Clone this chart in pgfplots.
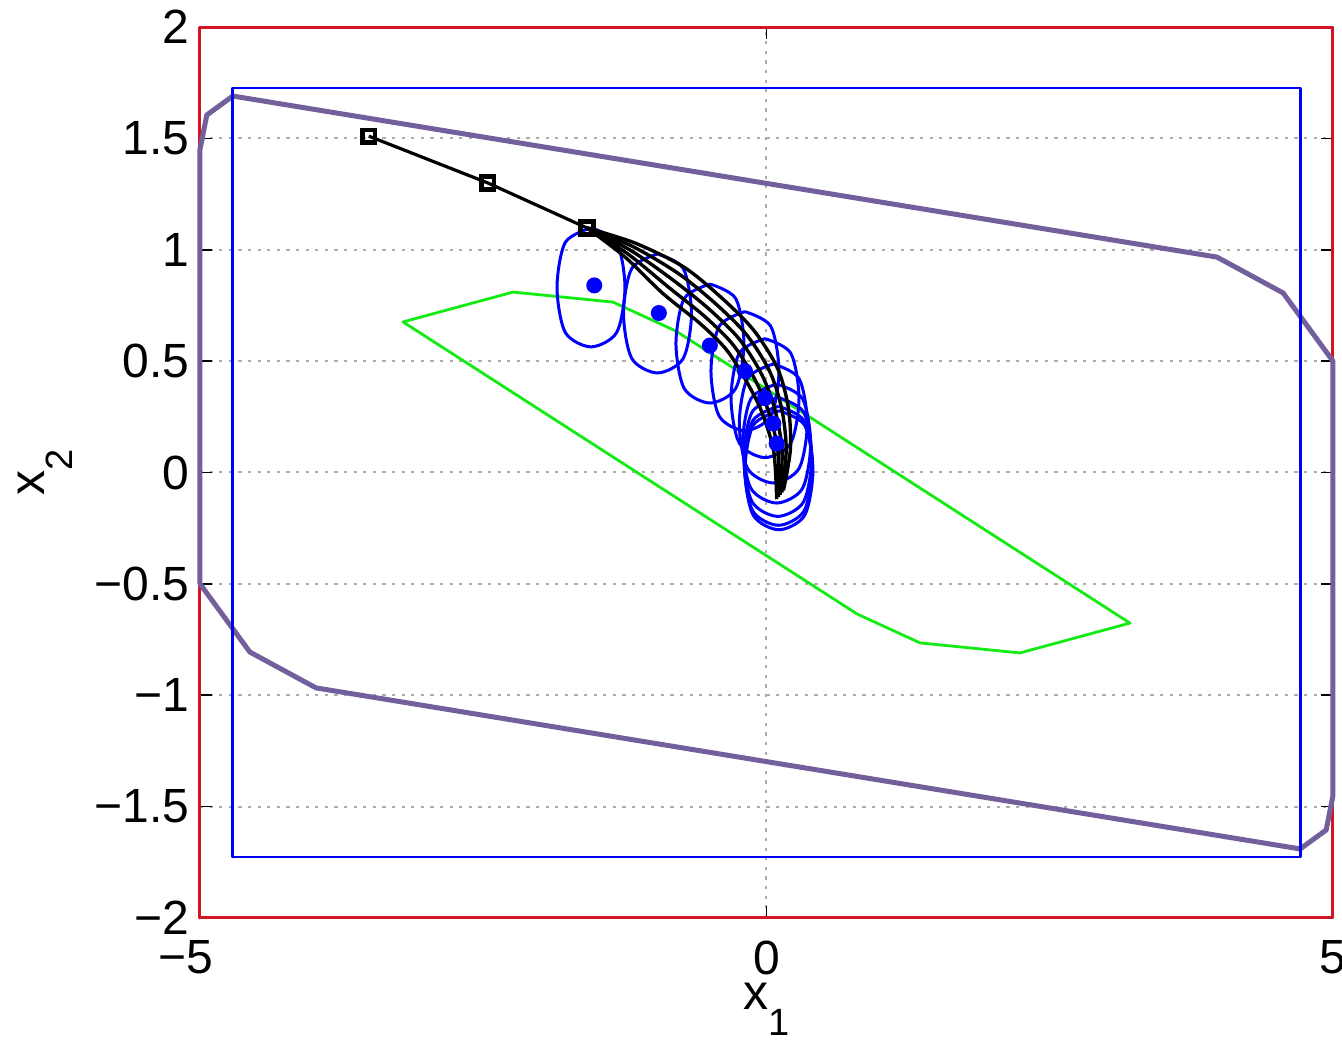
\documentclass[border=0pt]{standalone}
\usepackage{fontspec}
\setmainfont{Liberation Sans}
\usepackage{pgfplots}
\pgfplotsset{compat=1.18}
\definecolor{cpurple}{RGB}{115,95,155}
\definecolor{cred}{RGB}{210,20,35}
\definecolor{cgreen}{RGB}{20,235,20}
\definecolor{cblue}{RGB}{0,0,255}
\begin{document}
\begin{tikzpicture}
\begin{axis}[
  at={(0,0)}, anchor=south west,
  scale only axis, width=283.25pt, height=222.75pt,
  xmin=-5, xmax=5, ymin=-2, ymax=2,
  xtick={-5,0,5}, xticklabels={\llap{−}5,0,5},
  ytick={-2,-1.5,-1,-0.5,0,0.5,1,1.5,2},
  yticklabels={−2,−1.5,−1,−0.5,0,0.5,1,1.5,2},
  tick align=inside, tick pos=both, major tick length=3pt,
  tick style={black, line width=0.4pt},
  grid=major,
  major grid style={gray!65, line width=0.5pt, dash pattern=on 0.8pt off 1.6pt},
  axis line style={draw=none},
  clip=false,
  ticklabel style={font=\fontsize{12}{14}\selectfont},
  xticklabel style={anchor=north, inner sep=0pt, yshift=-5.5pt},
  yticklabel style={anchor=east, inner sep=0pt, xshift=-2.5pt},
  xlabel={x\raisebox{-6.3pt}{\fontsize{9.5}{10}\selectfont 1}},
  xlabel style={at={([yshift=-23pt]axis description cs:0.5,0)}, anchor=base, inner sep=0pt, font=\fontsize{12.5}{14}\selectfont},
  ylabel={x\raisebox{-6.8pt}{\fontsize{9.5}{10}\selectfont 2}},
  ylabel style={at={([xshift=-38.75pt]axis description cs:0,0.5)}, anchor=base, inner sep=0pt, font=\fontsize{12.5}{14}\selectfont},
]
% state constraint set (red)
\addplot[cred, line width=0.75pt, line join=round, line cap=round] coordinates {(-5,-2) (5,-2) (5,2) (-5,2) (-5,-2)};
% purple polytope
\addplot[cpurple, line width=1.25pt, line join=round, line cap=round] coordinates {
(-4.71,1.69) (3.976,0.967) (4.56,0.806) (5,0.5) (5,-1.45) (4.94,-1.605) (4.71,-1.69)
(-3.976,-0.967) (-4.56,-0.806) (-5,-0.5) (-5,1.45) (-4.94,1.605) (-4.71,1.69)};
% blue box
\addplot[cblue, line width=0.7pt, line join=round, line cap=round] coordinates {(-4.71,-1.726) (4.71,-1.726) (4.71,1.726) (-4.71,1.726) (-4.71,-1.726)};
% green polytope
\addplot[cgreen, line width=0.7pt, line join=round, line cap=round] coordinates {
(-3.208,0.676) (-2.237,0.810) (-1.355,0.765) (-0.799,0.635) (3.208,-0.676) (2.237,-0.810) (1.355,-0.765) (0.799,-0.635) (-3.208,0.676)};
% blue loops
\addplot[cblue, line width=0.75pt, smooth] coordinates {(-1.549,1.098) (-1.322,1.033) (-1.249,0.831) (-1.322,0.629) (-1.549,0.564) (-1.776,0.629) (-1.849,0.831) (-1.776,1.033) (-1.549,1.098)};
\addplot[cblue, line width=0.75pt, smooth] coordinates {(-0.962,0.981) (-0.735,0.916) (-0.662,0.714) (-0.735,0.512) (-0.962,0.447) (-1.189,0.512) (-1.262,0.714) (-1.189,0.916) (-0.962,0.981)};
\addplot[cblue, line width=0.75pt, smooth] coordinates {(-0.499,0.846) (-0.272,0.781) (-0.199,0.579) (-0.272,0.377) (-0.499,0.312) (-0.726,0.377) (-0.799,0.579) (-0.726,0.781) (-0.499,0.846)};
\addplot[cblue, line width=0.75pt, smooth] coordinates {(-0.19,0.722) (0.037,0.657) (0.11,0.455) (0.037,0.253) (-0.19,0.188) (-0.417,0.253) (-0.49,0.455) (-0.417,0.657) (-0.19,0.722)};
\addplot[cblue, line width=0.75pt, smooth] coordinates {(-0.013,0.601) (0.214,0.536) (0.287,0.334) (0.214,0.132) (-0.013,0.067) (-0.24,0.132) (-0.313,0.334) (-0.24,0.536) (-0.013,0.601)};
\addplot[cblue, line width=0.75pt, smooth] coordinates {(0.06,0.487) (0.287,0.422) (0.36,0.22) (0.287,0.018) (0.06,-0.047) (-0.167,0.018) (-0.24,0.22) (-0.167,0.422) (0.06,0.487)};
\addplot[cblue, line width=0.75pt, smooth] coordinates {(0.09,0.397) (0.317,0.332) (0.39,0.13) (0.317,-0.072) (0.09,-0.137) (-0.137,-0.072) (-0.21,0.13) (-0.137,0.332) (0.09,0.397)};
\addplot[cblue, line width=0.75pt, smooth] coordinates {(0.10,0.337) (0.327,0.272) (0.40,0.07) (0.327,-0.132) (0.10,-0.197) (-0.127,-0.132) (-0.20,0.07) (-0.127,0.272) (0.10,0.337)};
\addplot[cblue, line width=0.75pt, smooth] coordinates {(0.105,0.297) (0.332,0.232) (0.405,0.03) (0.332,-0.172) (0.105,-0.237) (-0.122,-0.172) (-0.195,0.03) (-0.122,0.232) (0.105,0.297)};
\addplot[cblue, line width=0.75pt, smooth] coordinates {(0.11,0.277) (0.337,0.212) (0.41,0.01) (0.337,-0.192) (0.11,-0.257) (-0.117,-0.192) (-0.19,0.01) (-0.117,0.212) (0.11,0.277)};
% blue dots
\addplot[only marks, mark=*, mark size=1.8pt, cblue] coordinates {(-1.52,0.84) (-0.95,0.716) (-0.50,0.57) (-0.19,0.455) (-0.013,0.334) (0.06,0.22) (0.09,0.13)};
% black trajectories
\addplot[black, line width=0.85pt, smooth] coordinates {(-1.585,1.098) (-1.160,1.030) (-0.735,0.924) (-0.409,0.790) (-0.115,0.640) (0.100,0.465) (0.194,0.287) (0.211,0.105) (0.15,-0.08)};
\addplot[black, line width=0.85pt, smooth] coordinates {(-1.585,1.098) (-1.183,1.015) (-0.780,0.894) (-0.454,0.760) (-0.175,0.618) (0.030,0.452) (0.135,0.284) (0.174,0.103) (0.135,-0.09)};
\addplot[black, line width=0.85pt, smooth] coordinates {(-1.585,1.098) (-1.205,0.999) (-0.825,0.864) (-0.499,0.730) (-0.234,0.595) (-0.040,0.438) (0.075,0.281) (0.137,0.101) (0.12,-0.10)};
\addplot[black, line width=0.85pt, smooth] coordinates {(-1.585,1.098) (-1.228,0.983) (-0.870,0.834) (-0.544,0.700) (-0.294,0.573) (-0.110,0.425) (0.016,0.278) (0.100,0.099) (0.105,-0.11)};
\addplot[black, line width=0.85pt, smooth] coordinates {(-1.585,1.098) (-1.250,0.968) (-0.915,0.804) (-0.589,0.670) (-0.353,0.551) (-0.180,0.412) (-0.044,0.275) (0.063,0.097) (0.09,-0.12)};
\addplot[black, line width=0.8pt, mark=square, mark size=1.6pt, mark options={solid, line width=1.1pt}] coordinates {(-3.51,1.51) (-2.46,1.30) (-1.585,1.098)};
\end{axis}
\pgfresetboundingbox
\path[use as bounding box] (-50pt,-30.5pt) rectangle (285.5pt,229.5pt);
\end{tikzpicture}
\end{document}
